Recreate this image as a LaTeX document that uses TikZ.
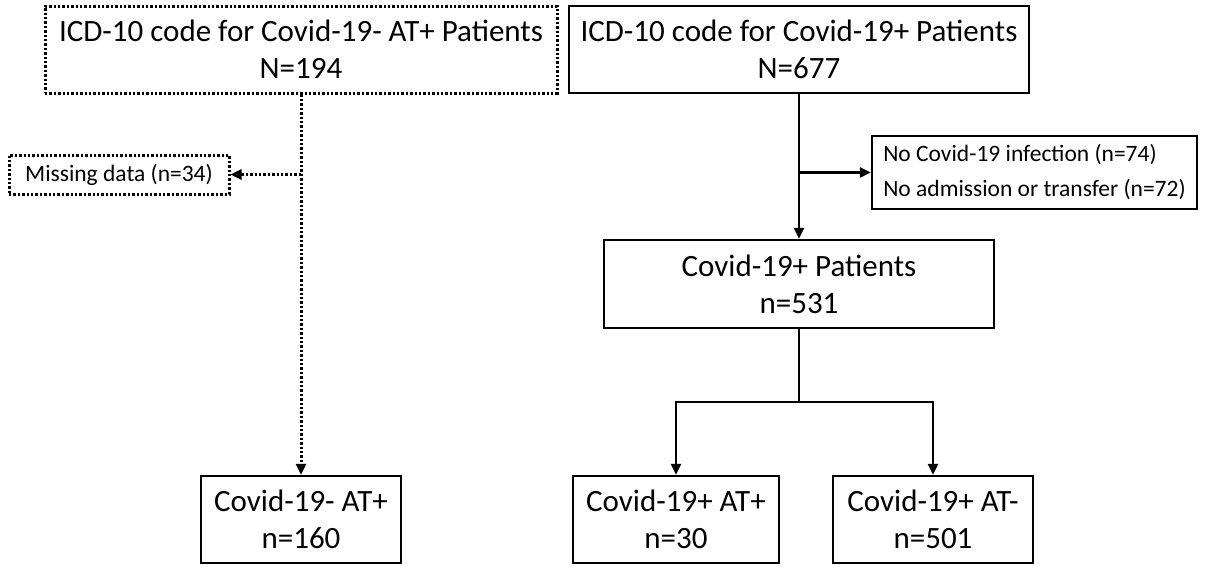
\documentclass[tikz,border=0pt]{standalone}
\usepackage{fontspec}
\setmainfont{Carlito}
\usetikzlibrary{arrows.meta}
\tikzset{
  box/.style={draw, line width=2.4pt, rectangle, inner sep=0pt, align=center, font=\fontsize{31}{37}\selectfont},
  dotbox/.style={box, line width=3pt, dash pattern=on 2.4pt off 2pt},
  smallbox/.style={draw, line width=2.4pt, rectangle, inner sep=0pt, align=left, font=\fontsize{23.5}{35}\selectfont},
  dotsmall/.style={smallbox, line width=3pt, dash pattern=on 2.4pt off 2pt, align=center},
  conn/.style={line width=2.4pt, -{Triangle[length=11pt,width=10pt]}},
  dotconn/.style={line width=3pt, dash pattern=on 2.4pt off 2pt, -{Triangle[length=11pt,width=10pt]}},
  plain/.style={line width=2.4pt},
}
\begin{document}
\begin{tikzpicture}[x=1pt,y=-1pt]
\useasboundingbox (0,0) rectangle (1211,566);
\node[dotbox, minimum width=512pt, minimum height=87pt] (A) at (301,49.5) {ICD-10 code for Covid-19- AT+ Patients\\N=194};
\node[box, minimum width=460pt, minimum height=87pt] (B) at (799,49.5) {ICD-10 code for Covid-19+ Patients\\N=677};
\node[dotsmall, minimum width=220pt, minimum height=39pt] (M) at (119,174.5) {Missing data (n=34)};
\node[smallbox, minimum width=325pt, minimum height=73pt] (D) at (1034.5,172.5) {No Covid-19 infection (n=74)\\No admission or transfer (n=72)};
\node[box, minimum width=390pt, minimum height=88pt] (C) at (799,284) {Covid-19+ Patients\\n=531};
\node[box, minimum width=200pt, minimum height=87pt] (E) at (301,519.5) {Covid-19- AT+\\n=160};
\node[box, minimum width=206pt, minimum height=87pt] (F) at (676,519.5) {Covid-19+ AT+\\n=30};
\node[box, minimum width=200pt, minimum height=87pt] (G) at (933,519.5) {Covid-19+ AT-\\n=501};
% left dotted branch
\draw[dotconn] (A.south) -- (E.north);
\coordinate (ml) at (A.south |- M.east);
\draw[dotconn] (ml) -- (M.east);
% right branch
\draw[conn] (B.south) -- (C.north);
\coordinate (bd) at (B.south |- D.west);
\draw[conn] (bd) -- (D.west);
% split
\coordinate (bar) at (799,402);
\coordinate (barL) at (F.north |- bar);
\coordinate (barR) at (G.north |- bar);
\draw[plain] (C.south) -- (bar);
\draw[plain, line cap=rect] (barL) -- (barR);
\draw[conn] (barL) -- (F.north);
\draw[conn] (barR) -- (G.north);
\end{tikzpicture}
\end{document}
